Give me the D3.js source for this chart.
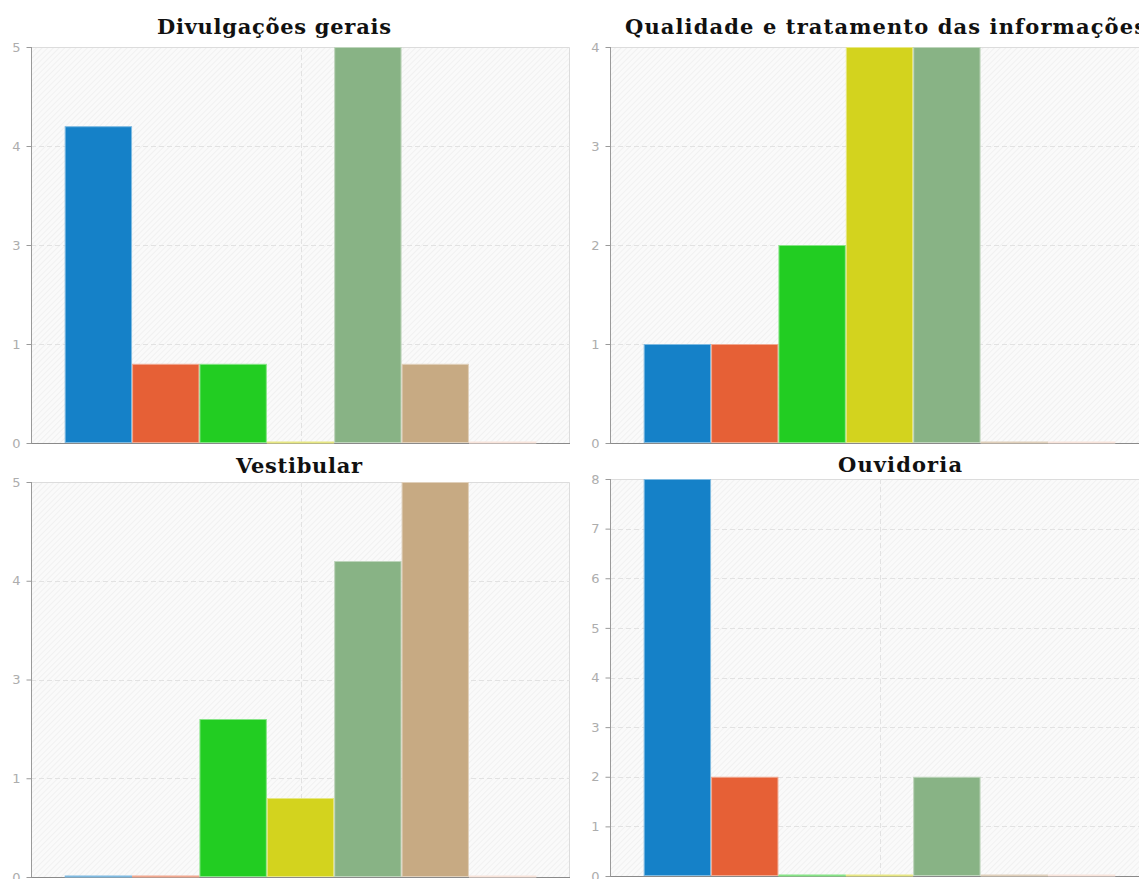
<!DOCTYPE html>
<html>
<head>
<meta charset="utf-8">
<script src="https://cdn.jsdelivr.net/npm/d3@7"></script>
<style>
  html, body { margin: 0; padding: 0; background: #fff; overflow: hidden; }
  svg { display: block; }
</style>
</head>
<body>
<svg id="chart" width="1139" height="879"></svg>
<script>
// ---------- data ----------
const panelTitles = ["Divulgações gerais", "Qualidade e tratamento das informações", "Vestibular", "Ouvidoria"];
const seriesNames = ["Série 1", "Série 2", "Série 3", "Série 4", "Série 5", "Série 6", "Série 7"];
const seriesColors = ["#1581c8", "#e66036", "#22cd22", "#d3d31e", "#88b385", "#c7aa83", "#f3cdbd"];
const valuesDivulgacoes = [4, 1, 1, 0, 5, 1, 0];
const valuesQualidade = [1, 1, 2, 4, 4, 0, 0];
const valuesVestibular = [0, 0, 2, 1, 4, 5, 0];
const valuesOuvidoria = [8, 2, 0, 0, 2, 0, 0];
const yMaxes = [5, 4, 5, 8];
const tickValuesDivulgacoes = [0, 1.25, 2.5, 3.75, 5];
const tickLabelsDivulgacoes = ["0", "1", "3", "4", "5"];
const tickValuesQualidade = [0, 1, 2, 3, 4];
const tickLabelsQualidade = ["0", "1", "2", "3", "4"];
const tickValuesVestibular = [0, 1.25, 2.5, 3.75, 5];
const tickLabelsVestibular = ["0", "1", "3", "4", "5"];
const tickValuesOuvidoria = [0, 1, 2, 3, 4, 5, 6, 7, 8];
const tickLabelsOuvidoria = ["0", "1", "2", "3", "4", "5", "6", "7", "8"];

const panelValues = [valuesDivulgacoes, valuesQualidade, valuesVestibular, valuesOuvidoria];
const panelTickValues = [tickValuesDivulgacoes, tickValuesQualidade, tickValuesVestibular, tickValuesOuvidoria];
const panelTickLabels = [tickLabelsDivulgacoes, tickLabelsQualidade, tickLabelsVestibular, tickLabelsOuvidoria];

// ---------- layout ----------
const layout = [
  { left: 31,  right: 570,  top: 47,  bottom: 443, titleX: 157, titleLen: 234, titleY: 34 },
  { left: 610, right: 1149, top: 47,  bottom: 443, titleX: 625, titleLen: 521, titleY: 34 },
  { left: 31,  right: 570,  top: 482, bottom: 877, titleX: 236, titleLen: 126, titleY: 473 },
  { left: 610, right: 1149, top: 479, bottom: 876, titleX: 838, titleLen: 124, titleY: 472 }
];

const svg = d3.select("#chart");
const defs = svg.append("defs");
const pat = defs.append("pattern")
  .attr("id", "hatch")
  .attr("patternUnits", "userSpaceOnUse")
  .attr("width", 4).attr("height", 4)
  .attr("patternTransform", "rotate(45)");
pat.append("rect").attr("width", 4).attr("height", 4).attr("fill", "#fafafa");
pat.append("line").attr("x1", 0).attr("y1", 0).attr("x2", 0).attr("y2", 4)
  .attr("stroke", "#eeeeee").attr("stroke-width", 1.5);

layout.forEach((L, i) => {
  const w = L.right - L.left, h = L.bottom - L.top;
  const g = svg.append("g").attr("transform", `translate(${L.left},${L.top})`);

  const x = d3.scaleBand().domain(seriesNames).range([0, w]).paddingInner(0).paddingOuter(0.5);
  const y = d3.scaleLinear().domain([0, yMaxes[i]]).range([h, 0]);

  // background
  g.append("rect").attr("width", w).attr("height", h).attr("fill", "url(#hatch)");
  // border top/right
  g.append("path").attr("d", `M0,0.5H${w - 0.5}V${h}`).attr("fill", "none").attr("stroke", "#dcdcdc");

  // horizontal grid
  g.append("g").selectAll("line").data(panelTickValues[i].filter(t => t > 0 && t < yMaxes[i]))
    .join("line")
    .attr("x1", 0).attr("x2", w)
    .attr("y1", d => Math.round(y(d)) + 0.5).attr("y2", d => Math.round(y(d)) + 0.5)
    .attr("stroke", "#e2e2e2").attr("stroke-dasharray", "5,3");
  // vertical center grid
  g.append("line")
    .attr("x1", Math.round(w / 2) + 0.5).attr("x2", Math.round(w / 2) + 0.5)
    .attr("y1", 0).attr("y2", h)
    .attr("stroke", "#e2e2e2").attr("stroke-dasharray", "5,3");

  // bottom axis line
  g.append("line").attr("x1", 0).attr("x2", w).attr("y1", h + 0.5).attr("y2", h + 0.5)
    .attr("stroke", "#8a8a8a");

  // bars
  const vals = panelValues[i];
  g.append("g").selectAll("rect").data(seriesNames)
    .join("rect")
    .attr("x", d => x(d) + 0.5)
    .attr("width", x.bandwidth() - 1)
    .attr("y", (d, j) => Math.min(y(vals[j]) + 0.5, h - 1))
    .attr("height", (d, j) => Math.max(1, h - y(vals[j]) - 1))
    .attr("fill", (d, j) => seriesColors[j])
    .attr("stroke", (d, j) => d3.interpolateRgb(seriesColors[j], "#ffffff")(0.45))
    .attr("stroke-width", 1);

  // left axis
  const yAxis = d3.axisLeft(y)
    .tickValues(panelTickValues[i])
    .tickFormat((d, k) => panelTickLabels[i][k])
    .tickSize(5).tickPadding(6);
  const ax = g.append("g").attr("transform", "translate(0.5,0)").call(yAxis);
  ax.select(".domain").attr("stroke", "#9a9a9a").attr("d", `M0,0V${h}`);
  ax.selectAll(".tick line").attr("stroke", "#9a9a9a");
  ax.selectAll(".tick text")
    .attr("fill", "#adadad")
    .attr("font-family", "'DejaVu Sans', sans-serif")
    .attr("font-size", 13);

  // title
  svg.append("text")
    .attr("x", L.titleX).attr("y", L.titleY)
    .attr("textLength", L.titleLen)
    .attr("lengthAdjust", "spacing")
    .attr("font-family", "'DejaVu Serif', serif")
    .attr("font-weight", "bold")
    .attr("font-size", 21)
    .attr("fill", "#111")
    .text(panelTitles[i]);
});
</script>
</body>
</html>
